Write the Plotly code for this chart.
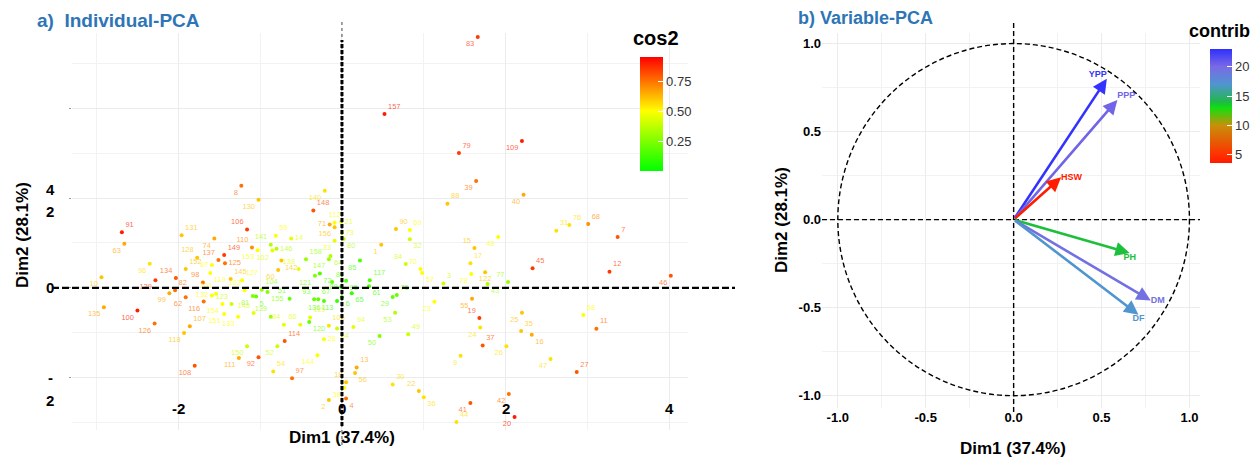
import plotly.graph_objects as go
from plotly.colors import sample_colorscale

W, H = 1256, 464
FONT = "Liberation Sans"

# ---------------- Individuals (panel a) ----------------
ind_labels = ["8","130","83","157","79","39","88","140","148","112","109","40","31","76","68","7","45","12","46","77",
              "25","58","35","11","16","26","47","27","42","20","71","21","156","73","33","80","90","69","1","32",
              "15","48","59","14","146","158","142","147","64","85","84","70","17","138","121","72","86","95","89","117",
              "57","3","78","122","43","61","75","29","51","93","67","136","113","6","65","23","55","53","115","66",
              "105","120","94","49","24","28","50","114","144","97","13","56","18","38","2","4","30","22","36","41",
              "44","9","37","19","24","91","63","131","106","74","110","141","128","137","149","125","153","102","96","152",
              "87","134","119","145","127","60","98","10","129","82","101","103","104","99","62","132","116","123","81","5",
              "155","135","100","154","143","151","133","139","34","126","107","118","150","52","111","92","54","108"]
ind_dim1 = [-1.23,-1.02,1.66,0.52,1.43,1.64,1.29,-0.21,-0.35,-0.09,2.20,2.22,2.62,2.78,3.01,3.37,2.33,3.27,4.02,2.03,
            2.20,2.95,2.19,3.11,2.32,2.01,2.55,2.87,2.04,2.11,-0.15,-0.01,-0.09,0.00,-0.09,0.02,0.66,0.83,0.48,0.83,
            1.62,1.91,-0.81,-0.62,-0.80,-0.44,-0.74,-0.16,-0.14,0.22,0.78,0.96,1.57,-0.53,-0.33,-0.27,-0.12,0.05,-0.01,0.34,
            0.98,1.24,1.58,1.75,1.78,0.33,0.67,0.62,-0.64,-0.34,-0.29,-0.22,-0.06,0.00,0.12,1.13,1.59,0.65,-0.39,-0.51,
            -0.16,-0.40,0.14,0.81,-0.06,-0.22,0.46,-0.70,-0.30,-0.61,0.18,0.16,0.05,0.03,-0.16,0.05,0.62,0.94,1.00,1.57,
            1.40,1.45,1.72,1.68,1.69,-2.69,-2.66,-1.96,-1.16,-1.56,-1.10,-0.87,-1.77,-1.51,-1.44,-1.43,-1.03,-0.85,-2.35,-1.91,
            -1.59,-2.03,-1.61,-1.36,-1.22,-0.78,-1.70,-2.94,-2.28,-2.04,-1.54,-1.19,-0.98,-2.11,-1.91,-1.59,-1.69,-1.35,-1.09,-1.05,
            -0.91,-2.91,-2.50,-1.46,-1.08,-1.44,-1.27,-0.87,-0.71,-2.29,-1.86,-1.93,-1.16,-0.79,-1.26,-1.02,-0.84,-1.80]
ind_dim2 = [2.27,1.96,5.58,3.87,3.00,2.38,1.87,2.16,1.72,1.45,3.27,2.07,1.27,1.40,1.42,1.13,0.44,0.36,0.27,0.13,
            -0.55,-0.60,-0.96,-0.91,-1.04,-1.30,-1.58,-1.87,-2.36,-2.87,1.41,1.47,1.35,1.22,1.05,1.09,1.31,1.29,0.96,1.08,
            0.89,1.13,1.16,1.10,0.87,0.64,0.61,0.64,0.71,0.61,0.53,0.42,0.55,0.42,0.27,0.32,0.13,0.16,0.02,0.17,
            0.33,0.10,0.31,0.35,0.09,0.04,-0.16,-0.20,-0.24,-0.25,-0.25,-0.29,-0.29,-0.21,-0.12,-0.31,-0.24,-0.55,-0.66,-0.82,
            -0.84,-0.76,-0.87,-1.03,-0.90,-1.14,-1.07,-1.18,-1.50,-2.01,-1.77,-1.89,-2.10,-2.22,-2.49,-2.46,-2.15,-2.29,-2.43,-2.56,
            -2.98,-1.51,-1.28,-0.67,-0.88,1.24,0.98,1.17,1.30,1.10,0.90,0.96,0.67,0.62,0.73,0.55,0.84,0.83,0.54,0.42,
            0.51,0.22,0.33,0.20,0.17,0.40,0.12,0.24,0.17,-0.05,-0.13,-0.05,-0.04,-0.12,-0.21,-0.17,-0.30,-0.36,-0.18,-0.19,
            -0.09,-0.43,-0.50,-0.36,-0.56,-0.58,-0.64,-0.64,-0.82,-0.79,-0.85,-1.00,-1.30,-1.30,-1.56,-1.54,-1.86,-1.73]
ind_cos2 = [0.75,0.60,0.85,0.90,0.85,0.75,0.60,0.55,0.80,0.50,0.90,0.65,0.55,0.55,0.70,0.80,0.85,0.85,0.80,0.30,
            0.60,0.50,0.60,0.75,0.65,0.55,0.55,0.80,0.75,0.90,0.65,0.45,0.60,0.45,0.45,0.35,0.60,0.50,0.60,0.40,
            0.60,0.50,0.50,0.45,0.35,0.30,0.60,0.30,0.35,0.15,0.40,0.50,0.55,0.45,0.25,0.15,0.20,0.15,0.15,0.15,
            0.50,0.40,0.50,0.60,0.35,0.15,0.20,0.20,0.20,0.20,0.20,0.15,0.10,0.10,0.10,0.50,0.65,0.35,0.45,0.45,
            0.55,0.20,0.45,0.40,0.40,0.50,0.25,0.80,0.50,0.75,0.65,0.60,0.60,0.50,0.60,0.75,0.55,0.60,0.55,0.80,
            0.55,0.55,0.80,0.85,0.55,0.90,0.65,0.60,0.85,0.65,0.70,0.35,0.60,0.75,0.85,0.75,0.50,0.45,0.55,0.60,
            0.50,0.80,0.50,0.60,0.50,0.60,0.75,0.60,0.85,0.75,0.50,0.50,0.30,0.65,0.75,0.50,0.75,0.40,0.25,0.20,
            0.25,0.65,0.90,0.50,0.45,0.50,0.50,0.30,0.45,0.75,0.65,0.60,0.40,0.40,0.65,0.80,0.55,0.80]
# label placement (style only)
ind_label_pos = ["bl","bl","bl","tr","tr","bl","tr","bl","tr","tc","bl","bl","tr","tr","tr","tr","tr","tr","bl","tl",
                 "bl","tr","tr","tr","br","bl","bl","tr","bl","bl","ml","mr","bl","mr","bl","br","tr","tr","bl","br",
                 "tl","bl","tr","mr","mr","tr","br","bl","br","bl","tl","tl","tr","tl","bl","br","tr","br","ml","tr",
                 "br","tr","bl","bc","br","br","tr","bl","tl","tl","tr","bl","bl","br","br","bl","bl","bl","tr","tl",
                 "tr","br","tr","tr","br","mr","bl","tr","bl","tr","tr","br","tl","bl","bl","br","tr","tl","br","bl",
                 "tr","bl","tr","tl","bl","tr","bl","tr","tl","bl","tl","tl","tl","tl","tr","mr","bl","bl","bl","tr",
                 "ml","tl","br","tr","tr","bl","tl","bl","bl","tr","tl","tl","tr","bl","bl","ml","bl","tl","bl","br",
                 "br","bl","bl","bl","tl","bl","bl","tl","tl","bl","tr","bl","bl","bl","bl","bl","tr","bl"]

# ---------------- Variables (panel b) ----------------
var_names = ["YPP", "PPP", "HSW", "PH", "DM", "DF"]
var_dim1 = [0.53, 0.59, 0.27, 0.66, 0.78, 0.71]
var_dim2 = [0.80, 0.68, 0.24, -0.19, -0.46, -0.54]
var_contrib = [22.8, 20.3, 3.7, 13.8, 19.5, 17.0]
var_label_pos = ["top left", "top right", "middle right", "bottom center", "middle right", "bottom center"]

# axis tick labels
x1_ticks = [-2, 0, 2, 4]
y1_tick_text = ["4", "2", "0", "-", "2"]
y1_tick_at = [2.18, 1.69, 0.0, -2.0, -2.51]
x2_ticks = [-1.0, -0.5, 0.0, 0.5, 1.0]

# ---------------- helpers ----------------
def px(xp):
    return xp / W

def py(yp):
    return 1 - yp / H

POS = {"bl": "bottom left", "br": "bottom right", "tl": "top left", "tr": "top right",
       "tc": "top center", "bc": "bottom center", "ml": "middle left", "mr": "middle right"}

cos2_min, cos2_max = 0.0, 0.95
cos2_scale = [[0, "#00FF00"], [0.5 / 0.95, "#FFFF00"], [1, "#FF0000"]]
contrib_min, contrib_max = 3.6, 23.0
contrib_scale = [[0.0, "#FF1A00"], [0.07, "#FF3000"], [0.33, "#C8900A"], [0.485, "#10E010"],
                 [0.536, "#20B848"], [0.69, "#5095D0"], [0.845, "#7A6AE4"], [1.0, "#2F2FFF"]]


def to_rgba(c, a):
    nums = [float(v) for v in c[c.index("(") + 1:c.index(")")].split(",")[:3]]
    return "rgba(%d,%d,%d,%.2f)" % (round(nums[0]), round(nums[1]), round(nums[2]), a)


cos2_cols = sample_colorscale(cos2_scale, [(v - cos2_min) / (cos2_max - cos2_min) for v in ind_cos2])
text_cols = [to_rgba(c, 0.72) for c in cos2_cols]
var_cols = sample_colorscale(contrib_scale, [(v - contrib_min) / (contrib_max - contrib_min) for v in var_contrib])

fig = go.Figure()

fig.add_trace(go.Scatter(
    x=ind_dim1, y=ind_dim2, mode="markers+text", text=ind_labels,
    textposition=[POS[p] for p in ind_label_pos],
    textfont=dict(size=7.5, color=text_cols, family=FONT),
    marker=dict(size=4, color=ind_cos2, colorscale=cos2_scale, cmin=cos2_min, cmax=cos2_max,
                showscale=True,
                colorbar=dict(x=px(640), xanchor="left", y=py(114), yanchor="middle",
                              len=114, lenmode="pixels", thickness=23, thicknessmode="pixels",
                              xpad=0, ypad=0, outlinewidth=0,
                              tickvals=[0.25, 0.5, 0.75], ticktext=["0.25", "0.50", "0.75"],
                              ticks="inside", ticklen=5, tickcolor="white",
                              tickfont=dict(size=13, color="#333333", family=FONT))),
    xaxis="x", yaxis="y", hoverinfo="skip", showlegend=False, cliponaxis=False))

# contrib colour bar carrier
fig.add_trace(go.Scatter(
    x=var_dim1, y=var_dim2, mode="markers",
    marker=dict(size=1, opacity=0, color=var_contrib, colorscale=contrib_scale,
                cmin=contrib_min, cmax=contrib_max, showscale=True,
                colorbar=dict(x=px(1210), xanchor="left", y=py(106), yanchor="middle",
                              len=114, lenmode="pixels", thickness=22, thicknessmode="pixels",
                              xpad=0, ypad=0, outlinewidth=0,
                              tickvals=[5, 10, 15, 20], ticks="inside", ticklen=5, tickcolor="white",
                              tickfont=dict(size=13, color="#333333", family=FONT))),
    xaxis="x2", yaxis="y2", hoverinfo="skip", showlegend=False))

# variable labels
fig.add_trace(go.Scatter(
    x=var_dim1, y=var_dim2, mode="text", text=var_names, textposition=var_label_pos,
    textfont=dict(size=9, color=var_cols, family=FONT, weight="bold"),
    xaxis="x2", yaxis="y2", hoverinfo="skip", showlegend=False, cliponaxis=False))

annotations = []
for name, xv, yv, col in zip(var_names, var_dim1, var_dim2, var_cols):
    annotations.append(dict(x=xv, y=yv, ax=0, ay=0, xref="x2", yref="y2", axref="x2", ayref="y2",
                            text="", showarrow=True, arrowhead=2, arrowsize=1.1, arrowwidth=2.6,
                            arrowcolor=col))

# titles
annotations.append(dict(text="<b>a)  Individual-PCA</b>", x=px(35), y=py(20), xref="paper", yref="paper",
                        xanchor="left", yanchor="middle", showarrow=False,
                        font=dict(size=19, color="#2E75B6", family=FONT)))
annotations.append(dict(text="<b>b) Variable-PCA</b>", x=px(796), y=py(18), xref="paper", yref="paper",
                        xanchor="left", yanchor="middle", showarrow=False,
                        font=dict(size=18, color="#2E75B6", family=FONT)))
# axis titles
for xx, yy, txt, ang in [(342, 437, "Dim1 (37.4%)", 0), (1013, 448, "Dim1 (37.4%)", 0),
                         (22, 235, "Dim2 (28.1%)", -90), (781, 220, "Dim2 (28.1%)", -90)]:
    annotations.append(dict(text="<b>%s</b>" % txt, x=px(xx), y=py(yy), xref="paper", yref="paper",
                            xanchor="center", yanchor="middle", showarrow=False, textangle=ang,
                            font=dict(size=17, color="black", family=FONT)))
# colour bar titles
annotations.append(dict(text="<b>cos2</b>", x=px(656), y=py(38), xref="paper", yref="paper",
                        xanchor="center", yanchor="middle", showarrow=False,
                        font=dict(size=20, color="black", family=FONT)))
annotations.append(dict(text="<b>contrib</b>", x=px(1219), y=py(31), xref="paper", yref="paper",
                        xanchor="center", yanchor="middle", showarrow=False,
                        font=dict(size=18, color="black", family=FONT)))
# panel a tick labels (placed as they appear in the original figure)
for t, v in zip(y1_tick_text, y1_tick_at):
    annotations.append(dict(text="<b>%s</b>" % t, x=px(50), y=v, xref="paper", yref="y",
                            xanchor="center", yanchor="middle", showarrow=False,
                            font=dict(size=15, color="black", family=FONT)))
for v in x1_ticks:
    annotations.append(dict(text="<b>%d</b>" % v, x=v, y=py(408), xref="x", yref="paper",
                            xanchor="center", yanchor="middle", showarrow=False,
                            font=dict(size=15, color="black", family=FONT)))

shapes = [
    # white legend background hiding grid
    dict(type="rect", xref="paper", yref="paper", x0=px(630), x1=px(692), y0=py(188), y1=py(30),
         fillcolor="white", line=dict(width=0), layer="between"),
    # panel a reference lines
    dict(type="line", xref="paper", yref="y", x0=px(52), x1=px(735), y0=0, y1=0,
         line=dict(color="black", width=2.2, dash="7px,3px"), layer="above"),
    dict(type="line", xref="x", yref="paper", x0=0, x1=0, y0=py(445), y1=py(22),
         line=dict(color="#444444", width=1, dash="dot"), layer="above"),
    dict(type="line", xref="x", yref="paper", x0=0, x1=0, y0=py(426), y1=py(40),
         line=dict(color="black", width=3, dash="4px,2px"), layer="above"),
    # panel b
    dict(type="circle", xref="x2", yref="y2", x0=-1, x1=1, y0=-1, y1=1,
         line=dict(color="black", width=1.4, dash="5px,3px"), layer="above"),
    dict(type="line", xref="x2 domain", yref="y2", x0=0, x1=1, y0=0, y1=0,
         line=dict(color="black", width=1.4, dash="5px,3px"), layer="above"),
    dict(type="line", xref="x2", yref="paper", x0=0, x1=0, y0=py(412), y1=py(22),
         line=dict(color="black", width=1.4, dash="5px,3px"), layer="above"),
]

grid = "#EBEBEB"
minor_grid = "#F2F2F2"
tickfont_b = dict(size=13, color="black", family=FONT, weight="bold")

fig.update_layout(
    width=W, height=H, autosize=False,
    margin=dict(l=0, r=0, t=0, b=0, autoexpand=False),
    paper_bgcolor="white", plot_bgcolor="white",
    showlegend=False,
    xaxis=dict(domain=[px(72), px(688)], range=[-3.30, 4.23], anchor="y",
               tickmode="array", tickvals=x1_ticks, showticklabels=False,
               showgrid=True, gridcolor=grid, gridwidth=1,
               minor=dict(tickmode="linear", tick0=0, dtick=1, showgrid=True, gridcolor=minor_grid, gridwidth=0.8),
               zeroline=False, showline=False, ticks=""),
    yaxis=dict(domain=[py(430), py(33)], range=[-3.16, 5.67], anchor="x",
               tickmode="linear", tick0=0, dtick=2,
               showgrid=True, gridcolor=grid, gridwidth=1,
               minor=dict(tickmode="linear", tick0=0, dtick=1, showgrid=True, gridcolor=minor_grid, gridwidth=0.8),
               zeroline=False, showline=False, showticklabels=False,
               ticks="outside", ticklen=2, tickcolor="#999999"),
    xaxis2=dict(domain=[px(822), px(1200)], range=[-1.09, 1.06], anchor="y2",
                tickmode="array", tickvals=x2_ticks, ticktext=["%.1f" % v for v in x2_ticks],
                showgrid=True, gridcolor=grid, gridwidth=1,
                minor=dict(tickmode="linear", tick0=0, dtick=0.25, showgrid=True, gridcolor=minor_grid, gridwidth=0.8),
                zeroline=False, showline=False, ticks="", tickfont=tickfont_b),
    yaxis2=dict(domain=[py(408), py(33)], range=[-1.07, 1.06], anchor="x2",
                tickmode="array", tickvals=x2_ticks, ticktext=["%.1f" % v for v in x2_ticks],
                showgrid=True, gridcolor=grid, gridwidth=1,
                minor=dict(tickmode="linear", tick0=0, dtick=0.25, showgrid=True, gridcolor=minor_grid, gridwidth=0.8),
                zeroline=False, showline=False, ticks="", tickfont=tickfont_b),
    annotations=annotations,
    shapes=shapes,
)

fig.write_html("out.html", config={"displayModeBar": False},
               post_script="document.body.style.margin='0px';")
